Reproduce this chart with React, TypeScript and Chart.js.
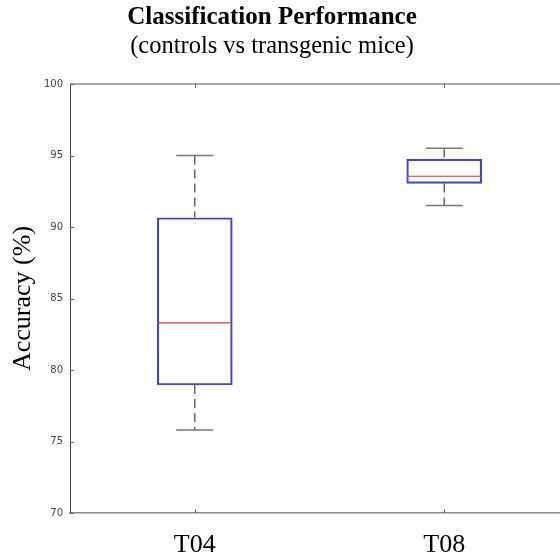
import React, { useEffect, useRef } from "react";
import { Chart, registerables } from "chart.js";

Chart.register(...registerables);

// ---- data ----
const categories = ["T04", "T08"];
const whiskerLow = [75.8, 91.5];
const q1 = [78.95, 93.05];
const median = [83.3, 93.55];
const q3 = [90.65, 94.75];
const whiskerHigh = [95.0, 95.5];
const yTicks = [70, 75, 80, 85, 90, 95, 100];
const titleText = "Classification Performance";
const subtitleText = "(controls vs transgenic mice)";
const yLabel = "Accuracy (%)";

const SERIF = '"Liberation Serif", "Times New Roman", serif';

const boxPlugin = {
  id: "boxDecor",
  afterDatasetsDraw(chart: any) {
    const { ctx, scales } = chart;
    const x = scales.x;
    const y = scales.y;
    ctx.save();
    categories.forEach((_, i) => {
      const cx = x.getPixelForValue(i + 1);
      const pHi = y.getPixelForValue(whiskerHigh[i]);
      const pQ3 = y.getPixelForValue(q3[i]);
      const pQ1 = y.getPixelForValue(q1[i]);
      const pLo = y.getPixelForValue(whiskerLow[i]);
      const pMed = y.getPixelForValue(median[i]);
      // dashed whiskers
      ctx.strokeStyle = "#666666";
      ctx.lineWidth = 1.5;
      ctx.setLineDash([9, 5]);
      ctx.beginPath();
      ctx.moveTo(cx, pHi);
      ctx.lineTo(cx, pQ3);
      ctx.moveTo(cx, pQ1);
      ctx.lineTo(cx, pLo);
      ctx.stroke();
      ctx.setLineDash([]);
      // caps
      const capHalf = 18.5;
      ctx.strokeStyle = "#777777";
      ctx.beginPath();
      ctx.moveTo(cx - capHalf, pHi);
      ctx.lineTo(cx + capHalf, pHi);
      ctx.moveTo(cx - capHalf, pLo);
      ctx.lineTo(cx + capHalf, pLo);
      ctx.stroke();
      // median
      const half = 37.5;
      ctx.strokeStyle = "#d03a3a";
      ctx.lineWidth = 1.2;
      ctx.beginPath();
      ctx.moveTo(cx - half, pMed);
      ctx.lineTo(cx + half, pMed);
      ctx.stroke();
    });
    ctx.restore();
  },
  afterDraw(chart: any) {
    const { ctx, chartArea, scales } = chart;
    const x = scales.x;
    const y = scales.y;
    ctx.save();
    // top border
    ctx.strokeStyle = "#555555";
    ctx.lineWidth = 1.2;
    ctx.beginPath();
    ctx.moveTo(chartArea.left, chartArea.top);
    ctx.lineTo(chartArea.right, chartArea.top);
    ctx.stroke();
    // inner ticks
    ctx.strokeStyle = "#666666";
    ctx.lineWidth = 1;
    ctx.beginPath();
    yTicks.forEach((v) => {
      const py = Math.round(y.getPixelForValue(v)) + 0.5;
      ctx.moveTo(chartArea.left, py);
      ctx.lineTo(chartArea.left + 4, py);
    });
    categories.forEach((_, i) => {
      const px = Math.round(x.getPixelForValue(i + 1)) + 0.5;
      ctx.moveTo(px, chartArea.top);
      ctx.lineTo(px, chartArea.top + 4);
      ctx.moveTo(px, chartArea.bottom);
      ctx.lineTo(px, chartArea.bottom - 4);
    });
    ctx.stroke();
    // titles
    ctx.fillStyle = "#000000";
    ctx.textAlign = "center";
    ctx.textBaseline = "alphabetic";
    ctx.font = `bold 25px ${SERIF}`;
    ctx.fillText(titleText, 272, 24);
    ctx.font = `24.5px ${SERIF}`;
    ctx.fillText(subtitleText, 272, 53);
    ctx.restore();
  },
};

export default function App() {
  const ref = useRef<HTMLCanvasElement | null>(null);
  useEffect(() => {
    if (!ref.current) return;
    const chart = new Chart(ref.current, {
      type: "bar",
      data: {
        datasets: [
          {
            data: categories.map((_, i) => ({ x: i + 1, y: [q1[i], q3[i]] })) as any,
            backgroundColor: "rgba(0,0,0,0)",
            borderColor: "#4545cc",
            borderWidth: 1.5,
            borderSkipped: false,
            barThickness: 75,
          },
        ],
      },
      options: {
        animation: false,
        responsive: false,
        devicePixelRatio: 1,
        layout: { padding: { top: 84, left: 0, right: 0, bottom: 0 } },
        plugins: {
          legend: { display: false },
          title: { display: false },
          tooltip: { enabled: false },
        },
        scales: {
          x: {
            type: "linear",
            min: 0.5,
            max: 2.464,
            offset: false,
            grid: { display: false, drawTicks: false, offset: false },
            border: { display: true, color: "#8a8a8a", width: 1.5 },
            afterBuildTicks: (s: any) => {
              s.ticks = categories.map((_, i) => ({ value: i + 1 }));
            },
            afterFit: (s: any) => {
              s.height = 45;
            },
            ticks: {
              callback: (v: any) => categories[Number(v) - 1] ?? "",
              font: { family: SERIF, size: 26 },
              color: "#000000",
              padding: 16.5,
              maxRotation: 0,
              autoSkip: false,
            },
          },
          y: {
            type: "linear",
            min: 70,
            max: 100,
            grid: { display: false, drawTicks: false },
            border: { display: true, color: "#444444", width: 1 },
            afterBuildTicks: (s: any) => {
              s.ticks = yTicks.map((v) => ({ value: v }));
            },
            afterFit: (s: any) => {
              s.width = 70;
            },
            ticks: {
              font: { family: '"DejaVu Sans", sans-serif', size: 10 },
              color: "#444444",
              padding: 7,
            },
            title: {
              display: true,
              text: yLabel,
              font: { family: SERIF, size: 26 },
              color: "#000000",
              padding: { top: 8, bottom: 0 },
            },
          },
        },
      },
      plugins: [boxPlugin],
    } as any);
    return () => chart.destroy();
  }, []);
  return (
    <div style={{ position: "fixed", left: 0, top: 0, width: 560, height: 558, background: "#fff" }}>
      <canvas ref={ref} width={560} height={558} style={{ display: "block", width: 560, height: 558 }} />
    </div>
  );
}
